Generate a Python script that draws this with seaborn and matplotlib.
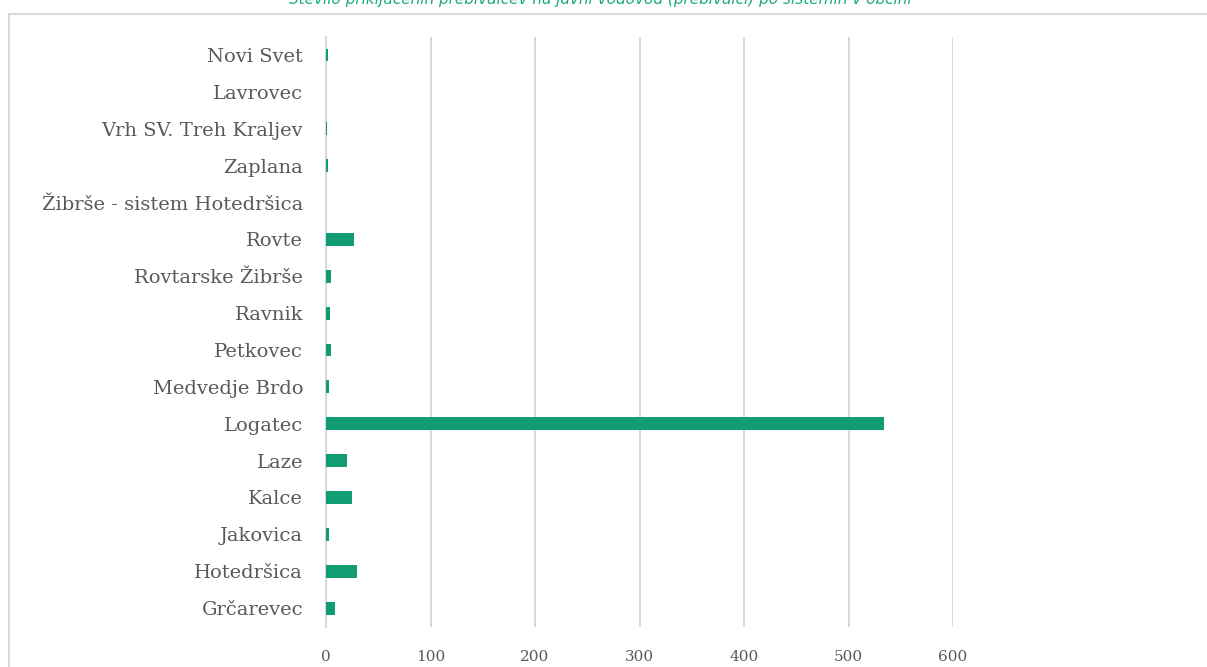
import matplotlib
matplotlib.use("Agg")
import matplotlib.pyplot as plt
import seaborn as sns
import pandas as pd
from matplotlib.patches import Rectangle

categories = ["Novi Svet", "Lavrovec", "Vrh SV. Treh Kraljev", "Zaplana",
              "Žibrše - sistem Hotedršica", "Rovte", "Rovtarske Žibrše", "Ravnik",
              "Petkovec", "Medvedje Brdo", "Logatec", "Laze", "Kalce", "Jakovica",
              "Hotedršica", "Grčarevec"]
values = [2, 0, 0.8, 2, 0, 27, 5, 4, 5, 3, 534, 20, 25, 3, 30, 9]
xticks = [0, 100, 200, 300, 400, 500, 600]
title = "Število priključenih prebivalcev na javni vodovod (prebivalci) po sistemih v občini"

sns.set_theme(style="white")
plt.rcParams['font.family'] = ['DejaVu Serif']

df = pd.DataFrame({"naselje": categories, "vrednost": values})

fig = plt.figure(figsize=(12.07, 6.67), dpi=100)
ax = fig.add_axes([326/1207, 1-626.5/667, (953-326)/1207, (626.5-36.6)/667])

sns.barplot(data=df, x="vrednost", y="naselje", orient="h", color="#129c73",
            saturation=1, width=0.35, linewidth=0, ax=ax)
for p in ax.patches:
    p.set_zorder(3)

ax.set_xlim(0, 600)
ax.set_xticks(xticks)
ax.set_xticklabels([str(t) for t in xticks])
ax.set_xlabel("")
ax.set_ylabel("")
ax.set_axisbelow(True)
ax.grid(axis="x", color="#d9d9d9", linewidth=1.5)
ax.grid(axis="y", visible=False)
for s in ["top", "right", "bottom"]:
    ax.spines[s].set_visible(False)
ax.spines["left"].set_color("#d9d9d9")
ax.spines["left"].set_linewidth(1.5)
ax.spines["left"].set_zorder(0.5)
ax.tick_params(axis="y", length=0, pad=16.5, labelsize=14, labelcolor="#595959")
ax.tick_params(axis="x", length=0, pad=17, labelsize=11, labelcolor="#595959")

# chart border
fig.patches.append(Rectangle((8.5/1207, -0.05), 1.2, 1-13.5/667+0.05,
                             transform=fig.transFigure, fill=False,
                             edgecolor="#d9d9d9", linewidth=1.5))

# title (cut off at the top in the reference)
fig.text(600/1207, 1-4/667, title, ha="center", va="baseline",
         color="#1aaa80", fontsize=11, style="italic", family=["DejaVu Sans"])

fig.savefig("out.png", dpi=100)
